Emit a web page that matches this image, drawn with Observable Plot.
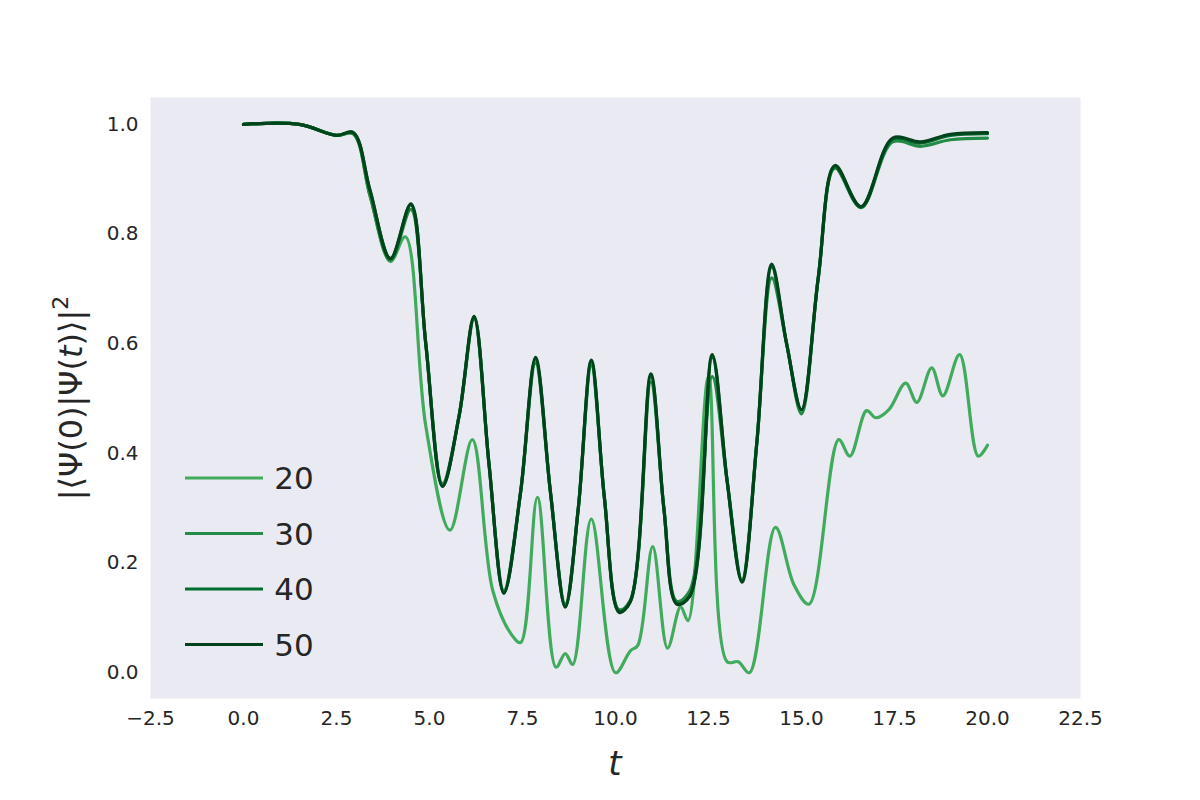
<!DOCTYPE html>
<html>
<head>
<meta charset="utf-8">
<script src="https://cdn.jsdelivr.net/npm/d3@7"></script>
<script src="https://cdn.jsdelivr.net/npm/@observablehq/plot@0.6"></script>
<style>
  body { margin: 0; background: #fff; }
</style>
</head>
<body>
<div id="chart"></div>
<script>
// series shared time grid for N = 30, 40, 50
const tBig = [0, 1.5, 2.5, 2.95, 3.4, 3.95, 4.5, 4.9, 5.35, 5.8, 6.2, 6.6, 7.0, 7.45, 7.85, 8.25, 8.65, 9.0, 9.35, 9.7, 10.1, 10.4, 10.95, 11.3, 11.65, 12.0, 12.6, 13.0, 13.4, 13.8, 14.2, 14.6, 15.0, 15.45, 15.9, 16.6, 17.45, 18.2, 19.0, 20];
const y50 = [1.0, 1.0, 0.98, 0.985, 0.88, 0.755, 0.855, 0.6, 0.34, 0.47, 0.65, 0.38, 0.145, 0.33, 0.575, 0.33, 0.12, 0.3, 0.57, 0.32, 0.11, 0.13, 0.545, 0.3, 0.125, 0.14, 0.58, 0.35, 0.165, 0.42, 0.745, 0.6, 0.48, 0.72, 0.925, 0.85, 0.975, 0.968, 0.982, 0.985];
const y40 = [1.0, 1.0, 0.98, 0.985, 0.88, 0.755, 0.853, 0.6, 0.34, 0.47, 0.648, 0.38, 0.145, 0.33, 0.572, 0.33, 0.12, 0.3, 0.567, 0.32, 0.112, 0.13, 0.54, 0.3, 0.127, 0.14, 0.575, 0.35, 0.167, 0.42, 0.74, 0.6, 0.479, 0.72, 0.923, 0.849, 0.973, 0.966, 0.98, 0.983];
const y30 = [1.0, 1.0, 0.98, 0.983, 0.87, 0.752, 0.845, 0.6, 0.345, 0.47, 0.645, 0.38, 0.15, 0.33, 0.565, 0.33, 0.125, 0.3, 0.56, 0.32, 0.115, 0.132, 0.53, 0.3, 0.13, 0.15, 0.54, 0.35, 0.17, 0.42, 0.72, 0.6, 0.472, 0.72, 0.92, 0.848, 0.968, 0.96, 0.972, 0.975];
// N = 20
const t20 = [0, 1.5, 2.5, 2.95, 3.4, 3.95, 4.35, 4.9, 5.55, 6.15, 6.7, 7.2, 7.45, 7.9, 8.4, 8.65, 8.85, 9.35, 10.0, 10.4, 10.6, 11.0, 11.4, 11.75, 11.95, 12.5, 13.0, 13.3, 13.6, 14.3, 14.8, 15.2, 16.0, 16.3, 16.75, 17.0, 17.35, 17.8, 18.1, 18.5, 18.8, 19.25, 19.75, 20];
const y20 = [1.0, 1.0, 0.98, 0.983, 0.87, 0.75, 0.795, 0.45, 0.26, 0.425, 0.15, 0.07, 0.055, 0.32, 0.01, 0.035, 0.015, 0.28, 0.0, 0.04, 0.05, 0.23, 0.045, 0.12, 0.095, 0.54, 0.02, 0.02, 0.0, 0.265, 0.16, 0.125, 0.425, 0.395, 0.478, 0.465, 0.48, 0.528, 0.493, 0.556, 0.505, 0.58, 0.395, 0.415];
const sizes = ["20", "30", "40", "50"];
const colors = ["#41ab5d", "#238b45", "#006d2c", "#00441b"];
const xTicks = [-2.5, 0, 2.5, 5, 7.5, 10, 12.5, 15, 17.5, 20, 22.5];
const yTicks = [0, 0.2, 0.4, 0.6, 0.8, 1.0];

const rows = [];
t20.forEach((t, i) => rows.push({t, v: y20[i], n: "20"}));
[["30", y30], ["40", y40], ["50", y50]].forEach(([n, ys]) =>
  tBig.forEach((t, i) => rows.push({t, v: ys[i], n})));

const chart = Plot.plot({
  width: 1200,
  height: 800,
  marginLeft: 150,
  marginRight: 120,
  marginTop: 97,
  marginBottom: 102,
  style: { fontFamily: "DejaVu Sans", fontSize: "20px", color: "#262626", background: "#fff" },
  x: { domain: [-2.5, 22.5], ticks: xTicks, tickFormat: d3.format(".1f"), tickSize: 0, tickPadding: 12, label: null },
  y: { domain: [-0.047, 1.049], ticks: yTicks, tickFormat: d3.format(".1f"), tickSize: 0, tickPadding: 12, label: null },
  color: { domain: sizes, range: colors },
  marks: [
    Plot.frame({ fill: "#EAEAF2", stroke: null }),
    Plot.axisX({ ticks: xTicks, tickFormat: d3.format(".1f"), tickSize: 0, tickPadding: 12, fontSize: 20, label: null }),
    Plot.axisY({ ticks: yTicks, tickFormat: d3.format(".1f"), tickSize: 0, tickPadding: 12, fontSize: 20, label: null }),
    Plot.line(rows, { x: "t", y: "v", z: "n", stroke: "n", strokeWidth: 3.2, curve: "catmull-rom" })
  ]
});

const svg = d3.select(chart);
// axis titles
svg.append("text").attr("x", 615).attr("y", 775).attr("text-anchor", "middle")
  .attr("font-family", "DejaVu Sans").attr("font-style", "italic").attr("font-size", 34).attr("fill", "#262626").text("t");
const yl = svg.append("text").attr("transform", "translate(82,398) rotate(-90)").attr("text-anchor", "middle")
  .attr("font-family", "DejaVu Sans").attr("font-size", 32).attr("fill", "#262626");
yl.append("tspan").text("|⟨Ψ(0)|Ψ(");
yl.append("tspan").attr("font-style", "italic").text("t");
yl.append("tspan").text(")⟩|");
yl.append("tspan").attr("font-size", 22).attr("dy", -14).text("2");

// legend
const leg = svg.append("g");
sizes.forEach((s, i) => {
  const y = 478 + i * 55.5;
  leg.append("line").attr("x1", 185).attr("x2", 263).attr("y1", y).attr("y2", y)
    .attr("stroke", colors[i]).attr("stroke-width", 3.2);
  leg.append("text").attr("x", 294).attr("y", y + 11).attr("font-family", "DejaVu Sans")
    .attr("font-size", 31).attr("fill", "#262626").text(s);
});

d3.select("#chart").append(() => chart);
</script>
</body>
</html>
